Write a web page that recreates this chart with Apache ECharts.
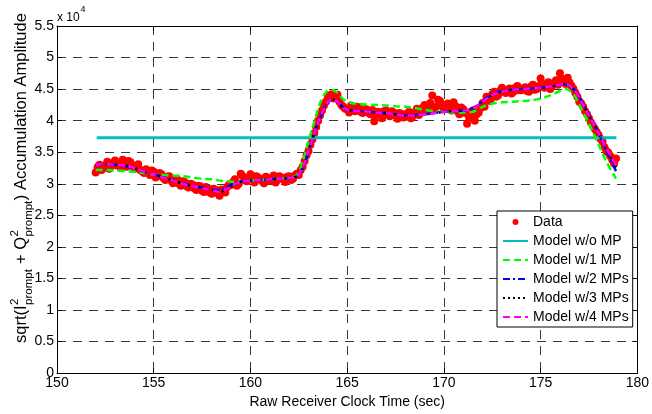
<!DOCTYPE html>
<html>
<head>
<meta charset="utf-8">
<script src="https://cdn.jsdelivr.net/npm/echarts@6/dist/echarts.min.js"></script>
<style>
  html, body { margin: 0; padding: 0; background: #fff; }
  #chart { width: 652px; height: 414px; }
</style>
</head>
<body>
<div id="chart"></div>
<script>
// Accumulation amplitude samples (units of 1e4), one row per second
const dataTime = [
  152.0, 152.1, 152.2, 152.3, 152.4, 152.5, 152.6, 152.7, 152.8, 152.9,
  153.0, 153.1, 153.2, 153.3, 153.4, 153.5, 153.6, 153.7, 153.8, 153.9,
  154.0, 154.1, 154.2, 154.3, 154.4, 154.5, 154.6, 154.7, 154.8, 154.9,
  155.0, 155.1, 155.2, 155.3, 155.4, 155.5, 155.6, 155.7, 155.8, 155.9,
  156.0, 156.1, 156.2, 156.3, 156.4, 156.5, 156.6, 156.7, 156.8, 156.9,
  157.0, 157.1, 157.2, 157.3, 157.4, 157.5, 157.6, 157.7, 157.8, 157.9,
  158.0, 158.1, 158.2, 158.3, 158.4, 158.5, 158.6, 158.7, 158.8, 158.9,
  159.0, 159.1, 159.2, 159.3, 159.4, 159.5, 159.6, 159.7, 159.8, 159.9,
  160.0, 160.1, 160.2, 160.3, 160.4, 160.5, 160.6, 160.7, 160.8, 160.9,
  161.0, 161.1, 161.2, 161.3, 161.4, 161.5, 161.6, 161.7, 161.8, 161.9,
  162.0, 162.1, 162.2, 162.3, 162.4, 162.5, 162.6, 162.7, 162.8, 162.9,
  163.0, 163.1, 163.2, 163.3, 163.4, 163.5, 163.6, 163.7, 163.8, 163.9,
  164.0, 164.1, 164.2, 164.3, 164.4, 164.5, 164.6, 164.7, 164.8, 164.9,
  165.0, 165.1, 165.2, 165.3, 165.4, 165.5, 165.6, 165.7, 165.8, 165.9,
  166.0, 166.1, 166.2, 166.3, 166.4, 166.5, 166.6, 166.7, 166.8, 166.9,
  167.0, 167.1, 167.2, 167.3, 167.4, 167.5, 167.6, 167.7, 167.8, 167.9,
  168.0, 168.1, 168.2, 168.3, 168.4, 168.5, 168.6, 168.7, 168.8, 168.9,
  169.0, 169.1, 169.2, 169.3, 169.4, 169.5, 169.6, 169.7, 169.8, 169.9,
  170.0, 170.1, 170.2, 170.3, 170.4, 170.5, 170.6, 170.7, 170.8, 170.9,
  171.0, 171.1, 171.2, 171.3, 171.4, 171.5, 171.6, 171.7, 171.8, 171.9,
  172.0, 172.1, 172.2, 172.3, 172.4, 172.5, 172.6, 172.7, 172.8, 172.9,
  173.0, 173.1, 173.2, 173.3, 173.4, 173.5, 173.6, 173.7, 173.8, 173.9,
  174.0, 174.1, 174.2, 174.3, 174.4, 174.5, 174.6, 174.7, 174.8, 174.9,
  175.0, 175.1, 175.2, 175.3, 175.4, 175.5, 175.6, 175.7, 175.8, 175.9,
  176.0, 176.1, 176.2, 176.3, 176.4, 176.5, 176.6, 176.7, 176.8, 176.9,
  177.0, 177.1, 177.2, 177.3, 177.4, 177.5, 177.6, 177.7, 177.8, 177.9,
  178.0, 178.1, 178.2, 178.3, 178.4, 178.5, 178.6, 178.7, 178.8, 178.9
];
const dataAmp = [
  3.18, 3.26, 3.30, 3.22, 3.25, 3.29, 3.35, 3.24, 3.28, 3.33,
  3.37, 3.29, 3.31, 3.25, 3.38, 3.32, 3.27, 3.36, 3.34, 3.28,
  3.24, 3.28, 3.31, 3.22, 3.20, 3.17, 3.23, 3.19, 3.14, 3.21,
  3.19, 3.10, 3.12, 3.17, 3.15, 3.09, 3.06, 3.11, 3.12, 3.05,
  3.01, 3.06, 3.08, 3.00, 2.97, 3.04, 3.03, 2.96, 2.94, 3.00,
  2.99, 2.93, 2.90, 2.97, 2.96, 2.89, 2.87, 2.95, 2.93, 2.86,
  2.84, 2.92, 2.90, 2.85, 2.81, 2.91, 2.88, 2.86, 2.95, 2.99,
  2.98, 3.03, 3.07, 2.97, 3.00, 3.16, 3.12, 3.06, 3.04, 3.09,
  3.15, 3.08, 3.02, 3.12, 3.10, 3.07, 3.04, 3.01, 3.11, 3.08,
  3.05, 3.09, 3.13, 3.02, 3.06, 3.12, 3.10, 3.07, 3.03, 3.11,
  3.12, 3.06, 3.08, 3.13, 3.16, 3.14, 3.22, 3.27, 3.36, 3.45,
  3.52, 3.62, 3.70, 3.80, 3.90, 4.00, 4.08, 4.16, 4.24, 4.30,
  4.36, 4.40, 4.42, 4.35, 4.37, 4.41, 4.30, 4.25, 4.22, 4.19,
  4.18, 4.13, 4.24, 4.19, 4.15, 4.22, 4.21, 4.14, 4.12, 4.18,
  4.18, 4.13, 4.10, 4.17, 3.99, 4.09, 4.14, 4.11, 4.04, 4.15,
  4.16, 4.10, 4.07, 4.15, 4.13, 4.08, 4.03, 4.12, 4.11, 4.05,
  4.06, 4.11, 4.14, 4.04, 4.07, 4.13, 4.19, 4.09, 4.12, 4.20,
  4.25, 4.18, 4.16, 4.28, 4.40, 4.20, 4.22, 4.33, 4.31, 4.24,
  4.18, 4.22, 4.27, 4.20, 4.16, 4.29, 4.23, 4.15, 4.10, 4.21,
  4.18, 4.12, 3.95, 4.05, 4.08, 4.16, 4.00, 4.10, 4.13, 4.20,
  4.28, 4.22, 4.38, 4.33, 4.31, 4.42, 4.46, 4.38, 4.40, 4.47,
  4.52, 4.46, 4.44, 4.49, 4.51, 4.43, 4.46, 4.52, 4.55, 4.48,
  4.48, 4.51, 4.53, 4.47, 4.46, 4.54, 4.57, 4.49, 4.50, 4.55,
  4.67, 4.55, 4.52, 4.58, 4.61, 4.50, 4.55, 4.60, 4.64, 4.57,
  4.75, 4.66, 4.62, 4.58, 4.68, 4.60, 4.55, 4.50, 4.44, 4.38,
  4.30, 4.27, 4.22, 4.15, 4.10, 4.04, 3.97, 3.92, 3.87, 3.82,
  3.77, 3.71, 3.67, 3.58, 3.52, 3.49, 3.44, 3.38, 3.32, 3.40
];

// Model without multipath: constant amplitude over the record
const noMpTime = [152.05, 178.92];
const noMpAmp = [3.73, 3.73];

// Time grid shared by the multipath model fits
const modelTime = [
  152.0, 152.5, 153.0, 153.5, 154.0, 154.5, 155.0, 155.5, 156.0, 156.5,
  157.0, 157.5, 158.0, 158.4, 158.8, 159.2, 159.6, 160.0, 160.5, 161.0,
  161.5, 162.0, 162.4, 162.7, 163.0, 163.3, 163.6, 163.9, 164.2, 164.5,
  164.8, 165.2, 165.8, 166.5, 167.0, 167.5, 168.0, 168.5, 169.0, 169.5,
  170.0, 170.5, 171.0, 171.5, 172.0, 172.5, 173.0, 173.5, 174.0, 174.5,
  175.0, 175.5, 176.0, 176.3, 176.7, 177.0, 177.5, 178.0, 178.4, 178.9
];
const model1Mp = [
  3.22, 3.22, 3.21, 3.20, 3.19, 3.17, 3.15, 3.14, 3.13, 3.12,
  3.10, 3.08, 3.07, 3.05, 3.04, 3.03, 3.04, 3.05, 3.06, 3.07,
  3.08, 3.09, 3.14, 3.35, 3.68, 3.98, 4.28, 4.45, 4.49, 4.44,
  4.34, 4.28, 4.26, 4.25, 4.24, 4.23, 4.22, 4.20, 4.17, 4.15,
  4.14, 4.13, 4.13, 4.14, 4.22, 4.27, 4.29, 4.30, 4.31, 4.32,
  4.35, 4.40, 4.47, 4.50, 4.42, 4.25, 3.95, 3.62, 3.35, 3.08
];
const model2Mp = [
  3.30, 3.31, 3.30, 3.28, 3.24, 3.19, 3.15, 3.10, 3.05, 3.01,
  2.97, 2.94, 2.91, 2.90, 2.95, 3.01, 3.04, 3.05, 3.06, 3.07,
  3.08, 3.09, 3.12, 3.24, 3.50, 3.79, 4.04, 4.24, 4.33, 4.30,
  4.21, 4.16, 4.15, 4.13, 4.12, 4.10, 4.09, 4.09, 4.10, 4.12,
  4.14, 4.15, 4.16, 4.20, 4.31, 4.42, 4.47, 4.49, 4.50, 4.51,
  4.52, 4.54, 4.57, 4.57, 4.50, 4.38, 4.10, 3.80, 3.52, 3.20
];
const model3Mp = [
  3.30, 3.31, 3.30, 3.29, 3.25, 3.19, 3.15, 3.10, 3.05, 3.00,
  2.96, 2.93, 2.90, 2.87, 2.92, 3.00, 3.04, 3.05, 3.06, 3.07,
  3.08, 3.09, 3.12, 3.25, 3.52, 3.80, 4.05, 4.25, 4.34, 4.30,
  4.20, 4.16, 4.15, 4.13, 4.12, 4.10, 4.08, 4.08, 4.10, 4.12,
  4.14, 4.15, 4.16, 4.19, 4.30, 4.41, 4.46, 4.49, 4.50, 4.51,
  4.52, 4.54, 4.57, 4.58, 4.50, 4.36, 4.08, 3.80, 3.55, 3.26
];
const model4Mp = [
  3.30, 3.31, 3.30, 3.29, 3.25, 3.19, 3.15, 3.10, 3.05, 3.00,
  2.96, 2.93, 2.90, 2.87, 2.92, 3.00, 3.04, 3.05, 3.06, 3.07,
  3.08, 3.09, 3.12, 3.25, 3.52, 3.80, 4.05, 4.25, 4.34, 4.30,
  4.20, 4.16, 4.15, 4.13, 4.12, 4.10, 4.08, 4.08, 4.10, 4.12,
  4.14, 4.15, 4.16, 4.19, 4.30, 4.41, 4.46, 4.49, 4.50, 4.51,
  4.52, 4.54, 4.57, 4.58, 4.50, 4.36, 4.08, 3.80, 3.56, 3.30
];

const seriesNames = ['Data', 'Model w/o MP', 'Model w/1 MP', 'Model w/2 MPs', 'Model w/3 MPs', 'Model w/4 MPs'];

// Axis ranges and tick spacing
const xRange = [150, 180], xStep = 5;
const yRange = [0, 5.5], yStep = 0.5;

const FONT = '"Liberation Sans", Arial, Helvetica, sans-serif';

function pairs(xs, ys) { return xs.map((x, i) => [x, ys[i]]); }

// y-axis title: sqrt(I^2_prompt + Q^2_prompt) Accumulation Amplitude, built from pieces
const measureCtx = document.createElement('canvas').getContext('2d');
function textWidth(str, size) {
  measureCtx.font = size + 'px ' + FONT;
  return measureCtx.measureText(str).width;
}
const mainSize = 16.5, scriptSize = 11.5;
const titleParts = [];
let cursor = 0;
function mainText(s) {
  titleParts.push({
    type: 'text', x: cursor, y: 0, silent: true,
    style: { text: s, fontSize: mainSize, fontFamily: FONT, fill: '#000',
             textVerticalAlign: 'middle', verticalAlign: 'middle' }
  });
  cursor += textWidth(s, mainSize);
}
function scripts(sup, sub) {
  titleParts.push({
    type: 'text', x: cursor + 0.5, y: -6, silent: true,
    style: { text: sup, fontSize: scriptSize, fontFamily: FONT, fill: '#000',
             textVerticalAlign: 'middle', verticalAlign: 'middle' }
  });
  titleParts.push({
    type: 'text', x: cursor + 0.5, y: 8, silent: true,
    style: { text: sub, fontSize: scriptSize, fontFamily: FONT, fill: '#000',
             textVerticalAlign: 'middle', verticalAlign: 'middle' }
  });
  cursor += Math.max(textWidth(sup, scriptSize), textWidth(sub, scriptSize)) + 1;
}
mainText('sqrt(I');
scripts('2', 'prompt');
mainText(' + Q');
scripts('2', 'prompt');
mainText(') Accumulation Amplitude');

const gridDash = { color: '#3a3a3a', width: 1, type: [9, 7] };

// Legend entries: line models show only their stroke, no marker
const legendData = seriesNames.map((name, i) =>
  i === 0 ? { name } : { name, itemStyle: { opacity: 0 } });

const option = {
  animation: false,
  backgroundColor: '#fff',
  textStyle: { fontFamily: FONT },
  grid: { left: 57, right: 9, top: 26, bottom: 36, containLabel: false },
  xAxis: [
    {
      type: 'value', min: xRange[0], max: xRange[1], interval: xStep, position: 'bottom',
      axisLine: { show: true, onZero: false, lineStyle: { color: '#000', width: 1 } },
      axisTick: { show: true, inside: true, length: 5, lineStyle: { color: '#000' } },
      axisLabel: { color: '#000', fontSize: 14, fontFamily: FONT, margin: 3 },
      splitLine: { show: true, lineStyle: gridDash },
      name: 'Raw Receiver Clock Time (sec)', nameLocation: 'middle', nameGap: 19,
      nameTextStyle: { color: '#000', fontSize: 14, fontFamily: FONT }
    },
    {
      type: 'value', min: xRange[0], max: xRange[1], interval: xStep, position: 'top',
      axisLine: { show: true, onZero: false, lineStyle: { color: '#000', width: 1 } },
      axisTick: { show: true, inside: true, length: 5, lineStyle: { color: '#000' } },
      axisLabel: { show: false }, splitLine: { show: false }
    }
  ],
  yAxis: [
    {
      type: 'value', min: yRange[0], max: yRange[1], interval: yStep, position: 'left',
      axisLine: { show: true, onZero: false, lineStyle: { color: '#000', width: 1 } },
      axisTick: { show: true, inside: true, length: 5, lineStyle: { color: '#000' } },
      axisLabel: { color: '#000', fontSize: 14, fontFamily: FONT, margin: 3 },
      splitLine: { show: true, lineStyle: gridDash }
    },
    {
      type: 'value', min: yRange[0], max: yRange[1], interval: yStep, position: 'right',
      axisLine: { show: true, onZero: false, lineStyle: { color: '#000', width: 1 } },
      axisTick: { show: true, inside: true, length: 5, lineStyle: { color: '#000' } },
      axisLabel: { show: false }, splitLine: { show: false }
    }
  ],
  legend: {
    orient: 'vertical', left: 497, top: 211,
    data: legendData,
    backgroundColor: '#fff', borderColor: '#000', borderWidth: 1, borderRadius: 0,
    padding: [4, 4, 3, 5],
    itemWidth: 25, itemHeight: 6, itemGap: 5,
    textStyle: { color: '#000', fontSize: 14, fontFamily: FONT },
    selectedMode: false
  },
  graphic: [
    { type: 'group', x: 21, y: 343, rotation: Math.PI / 2, children: titleParts },
    { type: 'text', x: 57, y: 18, silent: true,
      style: { text: 'x 10', fontSize: 12, fontFamily: FONT, fill: '#000',
               textVerticalAlign: 'middle', verticalAlign: 'middle' } },
    { type: 'text', x: 80.5, y: 10, silent: true,
      style: { text: '4', fontSize: 9, fontFamily: FONT, fill: '#000',
               textVerticalAlign: 'middle', verticalAlign: 'middle' } }
  ],
  series: [
    {
      name: seriesNames[0], type: 'scatter', symbol: 'circle', symbolSize: 8,
      itemStyle: { color: '#ff0000', opacity: 1 },
      data: pairs(dataTime, dataAmp), z: 2
    },
    {
      name: seriesNames[1], type: 'line', symbol: 'none', showSymbol: false,
      lineStyle: { color: '#00bfbf', width: 3, type: 'solid' },
      itemStyle: { color: '#00bfbf' },
      data: pairs(noMpTime, noMpAmp), z: 3
    },
    {
      name: seriesNames[2], type: 'line', symbol: 'none', showSymbol: false, smooth: 0.3,
      lineStyle: { color: '#00ff00', width: 2.5, type: [7, 4] },
      itemStyle: { color: '#00ff00' },
      data: pairs(modelTime, model1Mp), z: 4
    },
    {
      name: seriesNames[3], type: 'line', symbol: 'none', showSymbol: false, smooth: 0.3,
      lineStyle: { color: '#0000ff', width: 2.5, type: [7, 3, 2, 3] },
      itemStyle: { color: '#0000ff' },
      data: pairs(modelTime, model2Mp), z: 5
    },
    {
      name: seriesNames[4], type: 'line', symbol: 'none', showSymbol: false, smooth: 0.3,
      lineStyle: { color: '#000000', width: 2.5, type: [2, 3] },
      itemStyle: { color: '#000000' },
      data: pairs(modelTime, model3Mp), z: 6
    },
    {
      name: seriesNames[5], type: 'line', symbol: 'none', showSymbol: false, smooth: 0.3,
      lineStyle: { color: '#ff00ff', width: 2.5, type: [7, 4] },
      itemStyle: { color: '#ff00ff' },
      data: pairs(modelTime, model4Mp), z: 7
    }
  ]
};

const chart = echarts.init(document.getElementById('chart'), null, { renderer: 'canvas' });
chart.setOption(option);
</script>
</body>
</html>
